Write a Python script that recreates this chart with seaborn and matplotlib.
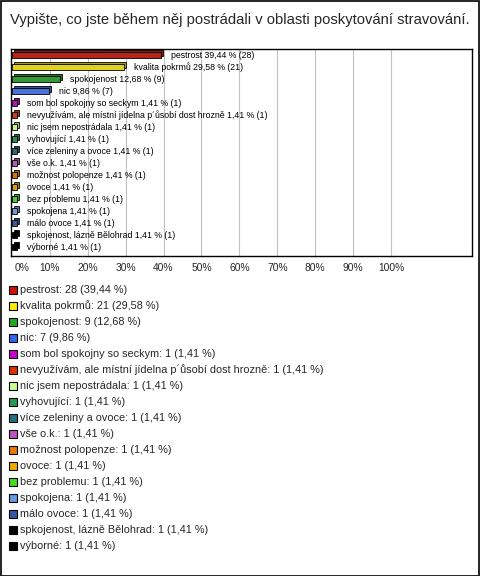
import matplotlib
matplotlib.use("Agg")
import matplotlib.pyplot as plt
import matplotlib.colors as mcolors
from matplotlib.patches import Rectangle
from matplotlib.transforms import ScaledTranslation
import seaborn as sns
import pandas as pd

title = "Vypište, co jste během něj postrádali v oblasti poskytování stravování."
names = [
    "pestrost", "kvalita pokrmů", "spokojenost", "nic",
    "som bol spokojny so seckym",
    "nevyužívám, ale místní jídelna p´ůsobí dost hrozně",
    "nic jsem nepostrádala", "vyhovující", "více zeleniny a ovoce",
    "vše o.k.", "možnost polopenze", "ovoce", "bez problemu",
    "spokojena", "málo ovoce", "spkojenost, lázně Bělohrad", "výborné",
]
counts = [28, 21, 9, 7, 1, 1, 1, 1, 1, 1, 1, 1, 1, 1, 1, 1, 1]
pcts = [39.44, 29.58, 12.68, 9.86, 1.41, 1.41, 1.41, 1.41, 1.41, 1.41,
        1.41, 1.41, 1.41, 1.41, 1.41, 1.41, 1.41]
colors = ["#CC1100", "#FFEE00", "#22AA22", "#3366EE", "#CC00CC", "#DD3300",
          "#CCFF88", "#229955", "#227080", "#BB55BB", "#EE7700", "#EEAA00",
          "#44DD22", "#6699DD", "#3355AA", "#000000", "#000000"]
tick_vals = [0, 10, 20, 30, 40, 50, 60, 70, 80, 90, 100]

sns.set_theme(style="white")
plt.rcParams["font.family"] = ["Liberation Sans", "DejaVu Sans"]

W, H = 480, 576
fig = plt.figure(figsize=(W / 100, H / 100), dpi=100)
ax = fig.add_axes([11 / W, 1 - 256 / H, (472 - 11) / W, (256 - 49) / H])

df = pd.DataFrame({"label": names, "pct": pcts})
dark = [tuple(v * 0.75 for v in mcolors.to_rgb(c)) for c in colors]

# back (depth) face
sns.barplot(data=df, x="pct", y="label", hue="label", palette=dark,
            legend=False, width=0.42, edgecolor="black", linewidth=0.6,
            dodge=False, ax=ax, zorder=2)
nback = len(ax.patches)
off = ScaledTranslation(2 / 100, 2 / 100, fig.dpi_scale_trans)
for p in ax.patches[:nback]:
    p.set_transform(ax.transData + off)
# front face
sns.barplot(data=df, x="pct", y="label", hue="label", palette=colors,
            legend=False, width=0.42, edgecolor="black", linewidth=0.6,
            dodge=False, ax=ax, zorder=3)

def fmt(v):
    return f"{v:.2f}".replace(".", ",")

for i, (n, c, p) in enumerate(zip(names, counts, pcts)):
    ax.annotate(f"{n} {fmt(p)} % ({c})", xy=(p, i), xytext=(7, 0),
                textcoords="offset points", va="center", ha="left",
                fontsize=6.3, color="black", zorder=4)

ax.set_xlim(-0.2, (472 - 11) / 3.8)
ax.set_ylim(16.75, -0.5)
ax.set_xticks(tick_vals)
ax.set_xticklabels([f"{v}%" for v in tick_vals], fontsize=7.4)
ax.set_yticks([])
ax.set_xlabel("")
ax.set_ylabel("")
ax.tick_params(axis="x", length=0, pad=5)
for v in tick_vals[1:]:
    ax.axvline(v, color="#C0C0C0", lw=0.8, zorder=1)
for s in ax.spines.values():
    s.set_color("black")
    s.set_linewidth(1.0)
tl = ax.get_xticklabels()[0]
tl.set_transform(tl.get_transform() + ScaledTranslation(10 / 100, 0, fig.dpi_scale_trans))

fig.text(240 / W, 1 - 20 / H, title, ha="center", va="center", fontsize=10.6)

for i, (n, c, p, col) in enumerate(zip(names, counts, pcts, colors)):
    yc = 290 + 16 * i
    fig.patches.append(Rectangle((9 / W, 1 - (yc + 4) / H), 8 / W, 8 / H,
                                 transform=fig.transFigure, facecolor=col,
                                 edgecolor="black", linewidth=0.8))
    fig.text(20 / W, 1 - yc / H, f"{n}: {c} ({fmt(p)} %)", ha="left",
             va="center", fontsize=7.8)

fig.patches.append(Rectangle((0.5 / W, 0.5 / H), (W - 1.5) / W, (H - 1.5) / H,
                             transform=fig.transFigure, fill=False,
                             edgecolor="black", linewidth=1.2))

fig.savefig("out.png", dpi=100)
